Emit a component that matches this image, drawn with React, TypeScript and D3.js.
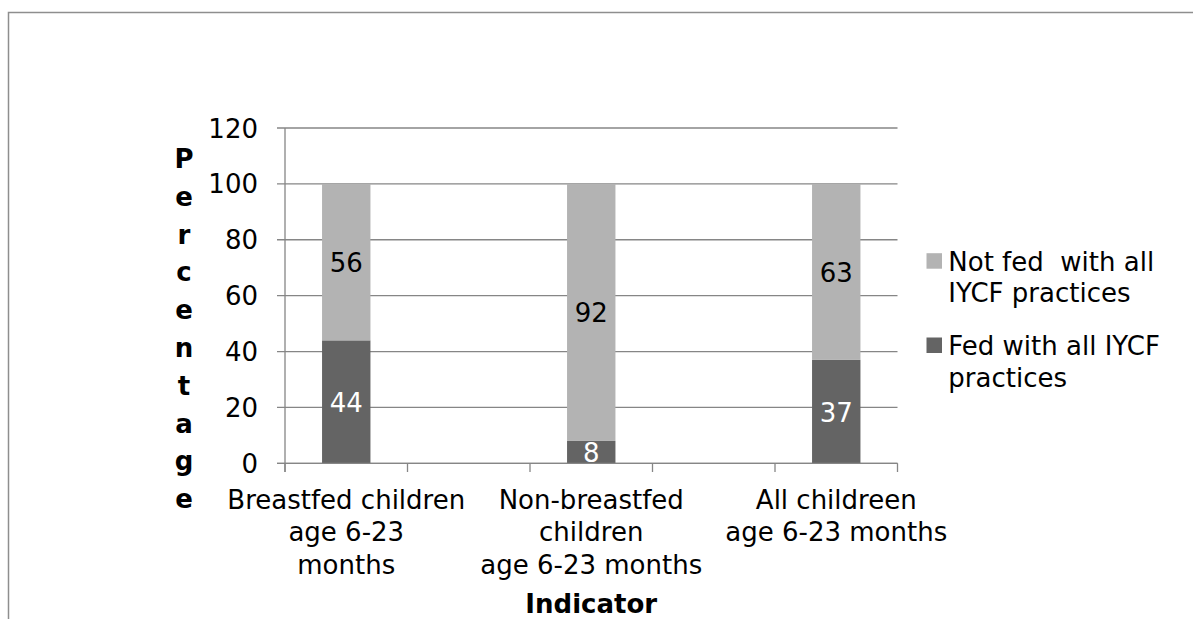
import React from "react";
import * as d3 from "d3";

const categoryLines: string[][] = [
  ["Breastfed children", "age 6-23", "months"],
  [],
  ["Non-breastfed", "children", "age 6-23 months"],
  [],
  ["All childreen", "age 6-23 months"],
];
const fedValues: (number | null)[] = [44, null, 8, null, 37];
const notFedValues: (number | null)[] = [56, null, 92, null, 63];
const yTicks = [0, 20, 40, 60, 80, 100, 120];
const seriesNames = [
  { lines: ["Not fed  with all", "IYCF practices"], color: "#b3b3b3" },
  { lines: ["Fed with all IYCF", "practices"], color: "#646464" },
];
const yTitle = "Percentage";
const xTitle = "Indicator";

const W = 1193;
const H = 619;
const FONT = "'DejaVu Sans', Verdana, sans-serif";
const FS = 26;
const GRID = "#868686";

export default function App() {
  const x = d3
    .scaleBand<number>()
    .domain(d3.range(categoryLines.length))
    .range([285, 897.5])
    .paddingInner(0)
    .paddingOuter(0);
  const y = d3.scaleLinear().domain([0, 120]).range([463.3, 128]);
  const bw = 48.4;
  const off = (x.bandwidth() - bw) / 2;
  const boundaries = d3.range(categoryLines.length + 1).map((i) => x.range()[0] + i * x.bandwidth());

  return (
    <svg
      width={W}
      height={H}
      style={{ position: "absolute", left: 0, top: 0, background: "#fff" }}
      fontFamily={FONT}
    >
      <rect x={0} y={0} width={W} height={H} fill="#fff" />
      <rect x={8.5} y={12.5} width={W + 50} height={H + 50} fill="none" stroke="#8e8e8e" strokeWidth={1.5} />

      {/* gridlines + y ticks */}
      {yTicks.map((t) => (
        <g key={t}>
          <line x1={277} x2={897.5} y1={y(t)} y2={y(t)} stroke={GRID} strokeWidth={1.3} />
          <text x={258} y={y(t) + 9.5} textAnchor="end" fontSize={FS} fill="#000">
            {t}
          </text>
        </g>
      ))}

      {/* bars */}
      {categoryLines.map((_, i) => {
        const f = fedValues[i];
        const n = notFedValues[i];
        if (f == null || n == null) return null;
        const x0 = (x(i) as number) + off;
        const cx = x0 + bw / 2;
        return (
          <g key={i}>
            <rect x={x0} y={y(f)} width={bw} height={y(0) - y(f)} fill={seriesNames[1].color} />
            <rect x={x0} y={y(f + n)} width={bw} height={y(f) - y(f + n)} fill={seriesNames[0].color} />
            <text x={cx} y={(y(f) + y(f + n)) / 2 + 10} textAnchor="middle" fontSize={FS} fill="#000">
              {n}
            </text>
            <text x={cx} y={(y(0) + y(f)) / 2 + 10} textAnchor="middle" fontSize={FS} fill="#fff">
              {f}
            </text>
          </g>
        );
      })}

      {/* axes */}
      <line x1={285} x2={285} y1={128} y2={472} stroke={GRID} strokeWidth={1.3} />
      <line x1={277} x2={897.5} y1={y(0)} y2={y(0)} stroke={GRID} strokeWidth={1.3} />
      {boundaries.map((b, i) => (
        <line key={i} x1={b} x2={b} y1={y(0)} y2={472} stroke={GRID} strokeWidth={1.3} />
      ))}

      {/* category labels */}
      {categoryLines.map((lines, i) =>
        lines.map((ln, j) => (
          <text
            key={i + "-" + j}
            x={(x(i) as number) + x.bandwidth() / 2}
            y={508.5 + j * 32.5}
            textAnchor="middle"
            fontSize={FS}
            fill="#000"
          >
            {ln}
          </text>
        ))
      )}

      {/* y title stacked */}
      {yTitle.split("").map((ch, i) => (
        <text key={i} x={184} y={168 + i * 37.8} textAnchor="middle" fontSize={FS} fontWeight="bold" fill="#000">
          {ch}
        </text>
      ))}

      {/* x title */}
      <text x={591.25} y={613} textAnchor="middle" fontSize={FS} fontWeight="bold" fill="#000">
        {xTitle}
      </text>

      {/* legend */}
      {seriesNames.map((s, i) => {
        const by = 270.7 + i * 84.3;
        return (
          <g key={i}>
            <rect x={926.5} y={by - 17.5} width={15.5} height={15.5} fill={s.color} />
            {s.lines.map((ln, j) => (
              <text key={j} x={948.3} y={by + j * 31.5} fontSize={FS} fill="#000" style={{ whiteSpace: "pre" }}>
                {ln}
              </text>
            ))}
          </g>
        );
      })}
    </svg>
  );
}
